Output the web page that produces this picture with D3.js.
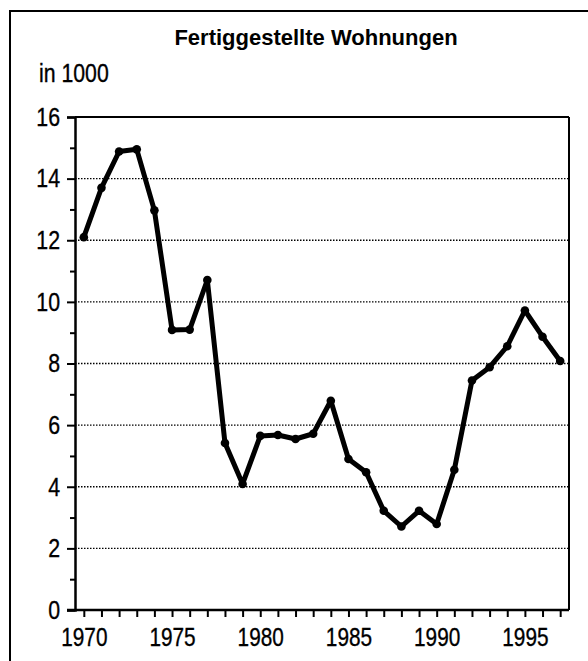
<!DOCTYPE html>
<html><head><meta charset="utf-8">
<script src="https://cdn.jsdelivr.net/npm/d3@7"></script>
<style>
html,body{margin:0;padding:0;background:#fff;}
svg{display:block;}
text{font-family:"Liberation Sans",Arial,sans-serif;fill:#000;}
.heavy{stroke:#000;stroke-width:0.35px;}
</style></head>
<body>
<svg id="chart" width="588" height="661"></svg>
<script>
const title = "Fertiggestellte Wohnungen";
const unitLabel = "in 1000";
const years = d3.range(1970, 1998);
const values = [12.1, 13.7, 14.88, 14.95, 12.97, 9.09, 9.1, 10.71, 5.42, 4.09,
                5.65, 5.68, 5.55, 5.72, 6.79, 4.9, 4.47, 3.22, 2.71, 3.22,
                2.79, 4.55, 7.45, 7.88, 8.56, 9.72, 8.87, 8.08];
const yTicks = [0, 2, 4, 6, 8, 10, 12, 14, 16];
const yMinorTicks = [1, 3, 5, 7, 9, 11, 13, 15];
const xTickLabels = [1970, 1975, 1980, 1985, 1990, 1995];

const svg = d3.select("#chart");
const m = {left: 75, right: 569, top: 117, bottom: 610};

// condense text horizontally (reference uses a narrow face)
function condense(sel, f) {
  sel.each(function() {
    const len = this.getComputedTextLength();
    if (len > 0) d3.select(this).attr("textLength", len * f).attr("lengthAdjust", "spacingAndGlyphs");
  });
}

// outer frame
svg.append("rect").attr("x", 10).attr("y", 11).attr("width", 600).attr("height", 700)
  .attr("fill", "none").attr("stroke", "#000").attr("stroke-width", 2);

const x = d3.scalePoint().domain(years).range([m.left, m.right]).padding(0.5);
const y = d3.scaleLinear().domain([0, 16]).range([m.bottom, m.top]);

// gridlines
svg.append("g").selectAll("line").data(yTicks.filter(d => d > 0 && d < 16)).join("line")
  .attr("x1", m.left).attr("x2", m.right)
  .attr("y1", d => y(d)).attr("y2", d => y(d))
  .attr("stroke", "#000").attr("stroke-width", 1.3).attr("stroke-dasharray", "1.5,1.5");

// plot frame top/right
svg.append("line").attr("x1", m.left).attr("x2", m.right).attr("y1", m.top).attr("y2", m.top)
  .attr("stroke", "#000").attr("stroke-width", 2);
svg.append("line").attr("x1", m.right).attr("x2", m.right).attr("y1", m.top).attr("y2", m.bottom)
  .attr("stroke", "#000").attr("stroke-width", 2);

// y axis
const yAxis = d3.axisLeft(y).tickValues(yTicks).tickSize(8).tickPadding(7).tickFormat(d3.format("d"));
const gy = svg.append("g").attr("transform", `translate(${m.left},0)`).call(yAxis);
gy.select(".domain").attr("stroke-width", 2.5);
gy.selectAll(".tick line").attr("stroke-width", 2);
gy.selectAll(".tick text").attr("class", "heavy").style("font-size", "26px").call(condense, 0.82);
svg.append("g").attr("transform", `translate(${m.left},0)`)
  .call(d3.axisLeft(y).tickValues(yMinorTicks).tickSize(5).tickFormat(""))
  .call(g => g.select(".domain").remove())
  .selectAll(".tick line").attr("stroke-width", 2);

// x axis
const xAxis = d3.axisBottom(x).tickValues(years).tickSize(7).tickPadding(11)
  .tickFormat(d => xTickLabels.includes(d) ? d : "");
const gx = svg.append("g").attr("transform", `translate(0,${m.bottom})`).call(xAxis);
gx.select(".domain").attr("d", `M${m.left - 8},0H${m.right}`).attr("stroke-width", 2.5);
gx.selectAll(".tick line").attr("stroke-width", 2);
gx.selectAll(".tick text").attr("class", "heavy").style("font-size", "26px").call(condense, 0.8);

// line
const data = years.map((yr, i) => ({yr, v: values[i]}));
svg.append("path").datum(data)
  .attr("fill", "none").attr("stroke", "#000").attr("stroke-width", 5)
  .attr("stroke-linejoin", "round")
  .attr("d", d3.line().x(d => x(d.yr)).y(d => y(d.v)));
svg.append("g").selectAll("circle").data(data).join("circle")
  .attr("cx", d => x(d.yr)).attr("cy", d => y(d.v)).attr("r", 4.3).attr("fill", "#000");

// texts
svg.append("text").attr("x", 316).attr("y", 45).attr("text-anchor", "middle")
  .style("font-weight", "bold").style("font-size", "22px").text(title);
svg.append("text").attr("x", 39).attr("y", 82).attr("class", "heavy").style("font-size", "25px").text(unitLabel)
  .call(condense, 0.85);
</script>
</body></html>
